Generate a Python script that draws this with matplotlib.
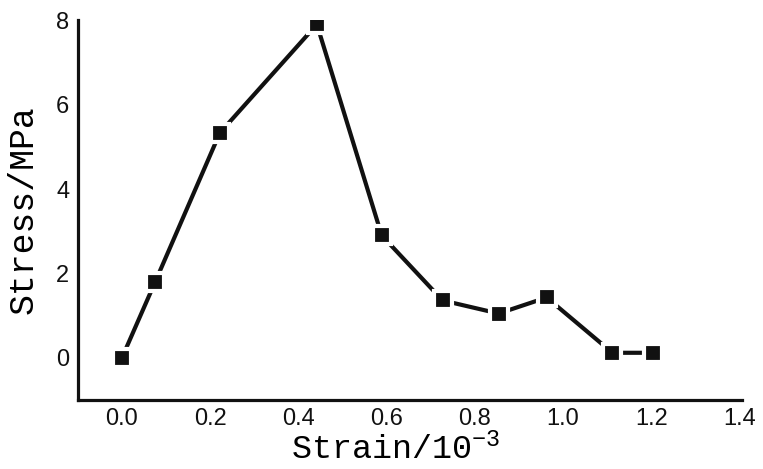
from matplotlib import pyplot as plt

# Strain in 10^-3, stress in MPa
strain = [0.0, 0.075, 0.222, 0.442, 0.589, 0.727, 0.854, 0.963, 1.112, 1.203]
stress = [0.0, 1.79, 5.33, 7.90, 2.90, 1.36, 1.05, 1.43, 0.12, 0.12]

x_ticks = [0.0, 0.2, 0.4, 0.6, 0.8, 1.0, 1.2, 1.4]
y_ticks = [0, 2, 4, 6, 8]


def main():
    plt.rcParams['mathtext.default'] = 'regular'

    fig = plt.figure(figsize=(7.63, 4.69), dpi=100)
    ax = fig.add_axes([0.102, 0.147, 0.870, 0.810])

    # black squares with a white rim so the line stops short of each marker
    ax.plot(strain, stress, color='#111111', lw=3.0,
            marker='s', ms=13.5, mfc='#111111', mec='white', mew=3)

    ax.set_xlim(-0.1, 1.405)
    ax.set_ylim(-1, 8)
    ax.set_xticks(x_ticks)
    ax.set_xticklabels(['%.1f' % v for v in x_ticks])
    ax.set_yticks(y_ticks)

    for s in ['top', 'right']:
        ax.spines[s].set_visible(False)
    for s in ['left', 'bottom']:
        ax.spines[s].set_linewidth(2.3)
        ax.spines[s].set_color('#111111')

    ax.tick_params(length=0, labelsize=17, pad=6, colors='#111111',
                   labelfontfamily='Liberation Sans')

    ax.set_xlabel('Strain/10$^{-3}$', family='Liberation Mono',
                  fontsize=24, labelpad=0)
    ax.xaxis.set_label_coords(0.479, -0.088)
    ax.set_ylabel('Stress/MPa', family='Liberation Mono',
                  fontsize=25, labelpad=12)

    fig.savefig('out.png', dpi=100)


if __name__ == "__main__":
    main()
